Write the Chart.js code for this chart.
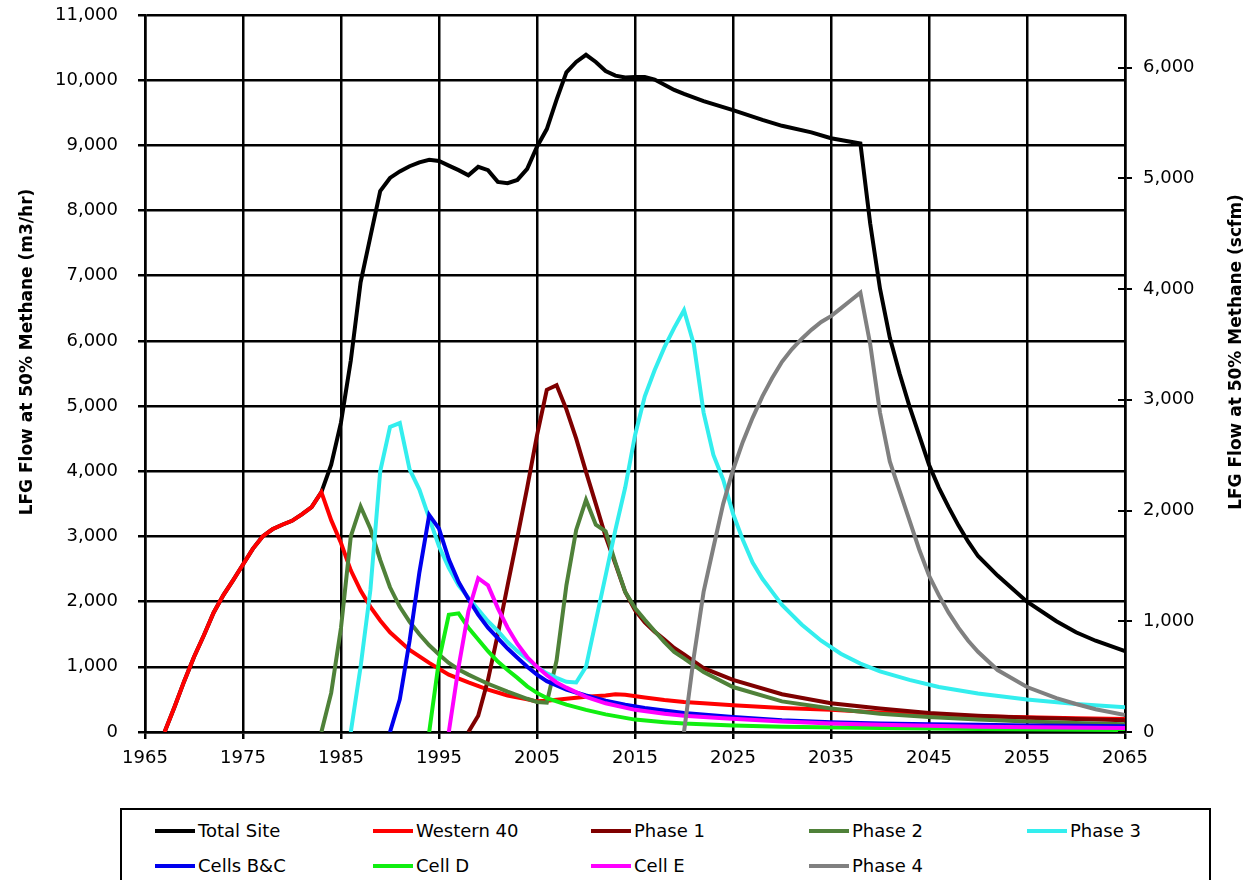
<!DOCTYPE html>
<html>
<head>
<meta charset="utf-8">
<script src="https://cdn.jsdelivr.net/npm/chart.js@4.4.1/dist/chart.umd.min.js"></script>
<style>
  html, body { margin: 0; padding: 0; background: #fff; }
  #wrap { position: relative; width: 1250px; height: 880px; overflow: hidden; }
  #lfgChart { position: absolute; left: 0; top: 0; }
  #legend {
    position: absolute; left: 120px; top: 808px; width: 1091px; height: 90px;
    border: 2px solid #000; box-sizing: border-box;
    display: grid; grid-template-columns: repeat(5, 218px); grid-auto-rows: 35px;
    padding: 3px 0 0 33px;
    font-family: "DejaVu Sans", sans-serif; font-size: 18px; color: #000;
  }
  .item { display: flex; align-items: center; }
  .swatch { width: 40px; height: 4px; margin-right: 3px; }
</style>
</head>
<body>
<div id="wrap">
  <canvas id="lfgChart" width="1250" height="800"></canvas>
  <div id="legend"></div>
</div>
<script>
// Landfill gas flow projection (m3/hr at 50% methane)

const leftTicks = [0, 1000, 2000, 3000, 4000, 5000, 6000, 7000, 8000, 9000, 10000, 11000];
const rightTicks = [0, 1000, 2000, 3000, 4000, 5000, 6000];
const yearTicks = [1965, 1975, 1985, 1995, 2005, 2015, 2025, 2035, 2045, 2055, 2065];
const scfmPerM3hr = 0.5886;

const totalYears = [1967,1968,1969,1970,1971,1972,1973,1974,1975,1976,1977,1978,1979,1980,1981,1982,1983,1984,1985,1986,1987,1988,1989,1990,1991,1992,1993,1994,1995,1996,1997,1998,1999,2000,2001,2002,2003,2004,2005,2006,2007,2008,2009,2010,2011,2012,2013,2014,2015,2016,2017,2018,2019,2020,2022,2025,2028,2030,2033,2035,2038,2039,2040,2041,2042,2043,2044,2045,2046,2047,2048,2049,2050,2052,2055,2058,2060,2062,2065];
const totalFlow = [0,380,780,1150,1480,1830,2100,2330,2570,2810,3000,3110,3180,3240,3340,3450,3680,4100,4750,5700,6900,7600,8300,8500,8600,8680,8740,8780,8760,8690,8620,8540,8670,8620,8440,8420,8470,8640,8980,9250,9700,10120,10280,10390,10280,10140,10070,10040,10050,10050,10010,9930,9850,9790,9680,9540,9390,9300,9200,9110,9030,7800,6800,6050,5500,5000,4550,4100,3750,3450,3170,2920,2700,2400,2000,1700,1530,1400,1240];

const w40Years = [1967,1968,1969,1970,1971,1972,1973,1974,1975,1976,1977,1978,1979,1980,1981,1982,1983,1984,1985,1986,1987,1988,1989,1990,1992,1994,1996,1998,2000,2002,2004,2005,2006,2008,2010,2012,2013,2014,2016,2018,2020,2022,2025,2030,2035,2040,2045,2050,2055,2060,2065];
const w40Flow = [0,380,780,1150,1480,1830,2100,2330,2570,2810,3000,3110,3180,3240,3340,3450,3680,3250,2900,2480,2170,1920,1710,1530,1260,1060,880,760,650,560,500,470,480,510,540,560,580,570,530,490,460,440,410,370,340,300,265,240,225,210,200];

const phase1Years = [1998,1999,2000,2001,2002,2003,2004,2005,2006,2007,2008,2009,2010,2011,2012,2013,2014,2015,2016,2017,2018,2019,2020,2022,2025,2030,2035,2040,2045,2050,2055,2060,2065];
const phase1Flow = [0,250,800,1500,2250,2990,3750,4550,5250,5320,4950,4500,3990,3500,3000,2580,2150,1870,1680,1540,1420,1290,1190,980,800,580,440,360,290,250,220,200,180];

const phase2Years = [1983,1984,1985,1986,1987,1988,1989,1990,1991,1992,1993,1994,1995,1996,1997,1998,1999,2000,2002,2004,2005,2006,2007,2008,2009,2010,2011,2012,2013,2014,2015,2016,2017,2018,2019,2020,2022,2025,2030,2035,2040,2045,2050,2055,2060,2065];
const phase2Flow = [0,600,1600,3000,3460,3120,2640,2220,1920,1690,1500,1330,1190,1060,960,880,810,740,620,510,460,450,1100,2250,3100,3560,3180,3080,2600,2150,1900,1720,1550,1380,1230,1130,920,690,470,360,280,230,190,160,140,120];

const phase3Years = [1986,1987,1988,1989,1990,1991,1992,1993,1994,1995,1996,1997,1998,1999,2000,2001,2002,2003,2004,2005,2006,2007,2008,2009,2010,2011,2012,2013,2014,2015,2016,2017,2018,2019,2020,2021,2022,2023,2024,2025,2026,2027,2028,2029,2030,2032,2034,2036,2038,2040,2043,2046,2050,2055,2060,2065];
const phase3Flow = [0,1000,2180,4000,4680,4740,4030,3720,3280,2850,2520,2250,2060,1880,1700,1550,1380,1240,1120,1000,900,830,770,760,1000,1700,2400,3100,3750,4550,5150,5550,5900,6200,6470,5950,4900,4250,3870,3350,2950,2600,2350,2150,1950,1650,1400,1200,1050,930,800,690,590,500,430,380];

const cellsBCYears = [1990,1991,1992,1993,1994,1995,1996,1997,1998,1999,2000,2001,2002,2003,2004,2005,2006,2008,2010,2012,2014,2016,2018,2020,2025,2030,2035,2040,2045,2050,2055,2060,2065];
const cellsBCFlow = [0,500,1400,2450,3330,3120,2650,2300,2040,1800,1600,1440,1280,1140,1000,880,780,650,560,480,420,370,330,290,230,180,150,130,120,110,100,95,90];

const cellDYears = [1994,1995,1996,1997,1998,1999,2000,2001,2002,2003,2004,2005,2006,2008,2010,2012,2015,2018,2020,2025,2030,2040,2050,2065];
const cellDFlow = [0,1100,1800,1820,1600,1420,1240,1080,950,830,700,600,520,420,340,270,190,150,130,100,80,60,45,30];

const cellEYears = [1996,1997,1998,1999,2000,2001,2002,2003,2004,2005,2006,2007,2008,2010,2012,2015,2018,2020,2024,2030,2035,2040,2050,2065];
const cellEFlow = [0,1000,1850,2360,2250,1900,1600,1350,1150,1000,870,760,680,540,440,340,280,250,210,160,130,110,80,60];

const phase4Years = [2020,2021,2022,2023,2024,2025,2026,2027,2028,2029,2030,2031,2032,2033,2034,2035,2036,2037,2038,2039,2040,2041,2042,2043,2044,2045,2046,2047,2048,2049,2050,2052,2055,2058,2060,2062,2065];
const phase4Flow = [0,1150,2150,2830,3500,4020,4450,4820,5150,5430,5680,5870,6030,6170,6290,6380,6500,6620,6740,5950,4900,4150,3700,3250,2800,2400,2100,1830,1600,1400,1230,950,690,520,430,350,260];

const seriesLabels = ['Total Site', 'Western 40', 'Phase 1', 'Phase 2', 'Phase 3', 'Cells B&C', 'Cell D', 'Cell E', 'Phase 4'];
const seriesColors = ['#000000', '#ff0000', '#7f0000', '#4f8139', '#33eeee', '#0000ee', '#11ee11', '#ff00ff', '#808080'];
const seriesYears = [totalYears, w40Years, phase1Years, phase2Years, phase3Years, cellsBCYears, cellDYears, cellEYears, phase4Years];
const seriesFlows = [totalFlow, w40Flow, phase1Flow, phase2Flow, phase3Flow, cellsBCFlow, cellDFlow, cellEFlow, phase4Flow];

const tickFont = { family: '"DejaVu Sans", sans-serif', size: 18 };

// Excel style: first series at the bottom, last series on top
const datasets = seriesLabels.map(function(label, i) {
    return {
        label: label,
        data: seriesYears[i].map(function(yr, j) { return { x: yr, y: seriesFlows[i][j] }; }),
        borderColor: seriesColors[i],
        backgroundColor: seriesColors[i],
        borderWidth: 4,
        pointRadius: 0,
        tension: 0,
        yAxisID: 'y',
        order: seriesLabels.length - i
    };
});

// fixed axis widths, and no extra label padding pushing the plot down
function fixVertical(width) {
    return function(scale) {
        scale.width = width;
        scale.paddingTop = 0;
        scale.paddingBottom = 0;
    };
}

// Titles read bottom-to-top on both sides, plus the little inward ticks on the right axis
const axisExtras = {
    id: 'axisExtras',
    afterDraw(chart) {
        const ctx = chart.ctx;
        const area = chart.chartArea;
        const yR = chart.scales.yRight;
        ctx.save();
        ctx.strokeStyle = '#000';
        ctx.lineWidth = 2;
        yR.ticks.forEach(function(t) {
            const py = Math.round(yR.getPixelForValue(t.value));
            ctx.beginPath();
            ctx.moveTo(area.right - 7, py);
            ctx.lineTo(area.right, py);
            ctx.stroke();
        });
        ctx.fillStyle = '#000';
        ctx.font = 'bold 17px "DejaVu Sans", sans-serif';
        ctx.textAlign = 'center';
        ctx.textBaseline = 'middle';
        [[28, 'LFG Flow at 50% Methane (m3/hr)'], [1237, 'LFG Flow at 50% Methane (scfm)']].forEach(function(t) {
            ctx.save();
            ctx.translate(t[0], 352);
            ctx.rotate(-Math.PI / 2);
            ctx.fillText(t[1], 0, 0);
            ctx.restore();
        });
        ctx.restore();
    }
};

const chart = new Chart(document.getElementById('lfgChart'), {
    type: 'line',
    data: { datasets: datasets },
    options: {
        responsive: false,
        animation: false,
        layout: { autoPadding: false, padding: { top: 15, left: 0, right: 0, bottom: 0 } },
        plugins: {
            legend: { display: false },
            tooltip: { enabled: false }
        },
        scales: {
            x: {
                type: 'linear',
                min: 1965,
                max: 2065,
                afterFit: function(scale) { scale.height = 68; },
                afterBuildTicks: function(scale) { scale.ticks = yearTicks.map(function(v) { return { value: v }; }); },
                grid: { color: '#000', lineWidth: 2.5, tickLength: 7 },
                border: { color: '#000', width: 2.5 },
                ticks: { color: '#000', font: tickFont, padding: 9, maxRotation: 0, callback: function(v) { return String(v); } }
            },
            y: {
                position: 'left',
                min: 0,
                max: 11000,
                afterFit: fixVertical(145),
                afterBuildTicks: function(scale) { scale.ticks = leftTicks.map(function(v) { return { value: v }; }); },
                grid: { color: '#000', lineWidth: 2.5, tickLength: 7 },
                border: { color: '#000', width: 2.5 },
                ticks: { color: '#000', font: tickFont, padding: 20, callback: function(v) { return v.toLocaleString('en-US'); } }
            },
            yRight: {
                position: 'right',
                min: 0,
                max: 11000 * scfmPerM3hr,
                afterFit: fixVertical(125),
                afterBuildTicks: function(scale) { scale.ticks = rightTicks.map(function(v) { return { value: v }; }); },
                grid: { drawOnChartArea: false, color: '#000', lineWidth: 2, tickLength: 7 },
                border: { color: '#000', width: 2.5 },
                ticks: { color: '#000', font: tickFont, padding: 11, callback: function(v) { return v.toLocaleString('en-US'); } }
            }
        }
    },
    plugins: [axisExtras]
});

// Legend box under the chart, built from the datasets
const legendBox = document.getElementById('legend');
chart.data.datasets.forEach(function(ds) {
    const item = document.createElement('div');
    item.className = 'item';
    const sw = document.createElement('span');
    sw.className = 'swatch';
    sw.style.background = ds.borderColor;
    const txt = document.createElement('span');
    txt.textContent = ds.label;
    item.appendChild(sw);
    item.appendChild(txt);
    legendBox.appendChild(item);
});
</script>
</body>
</html>
